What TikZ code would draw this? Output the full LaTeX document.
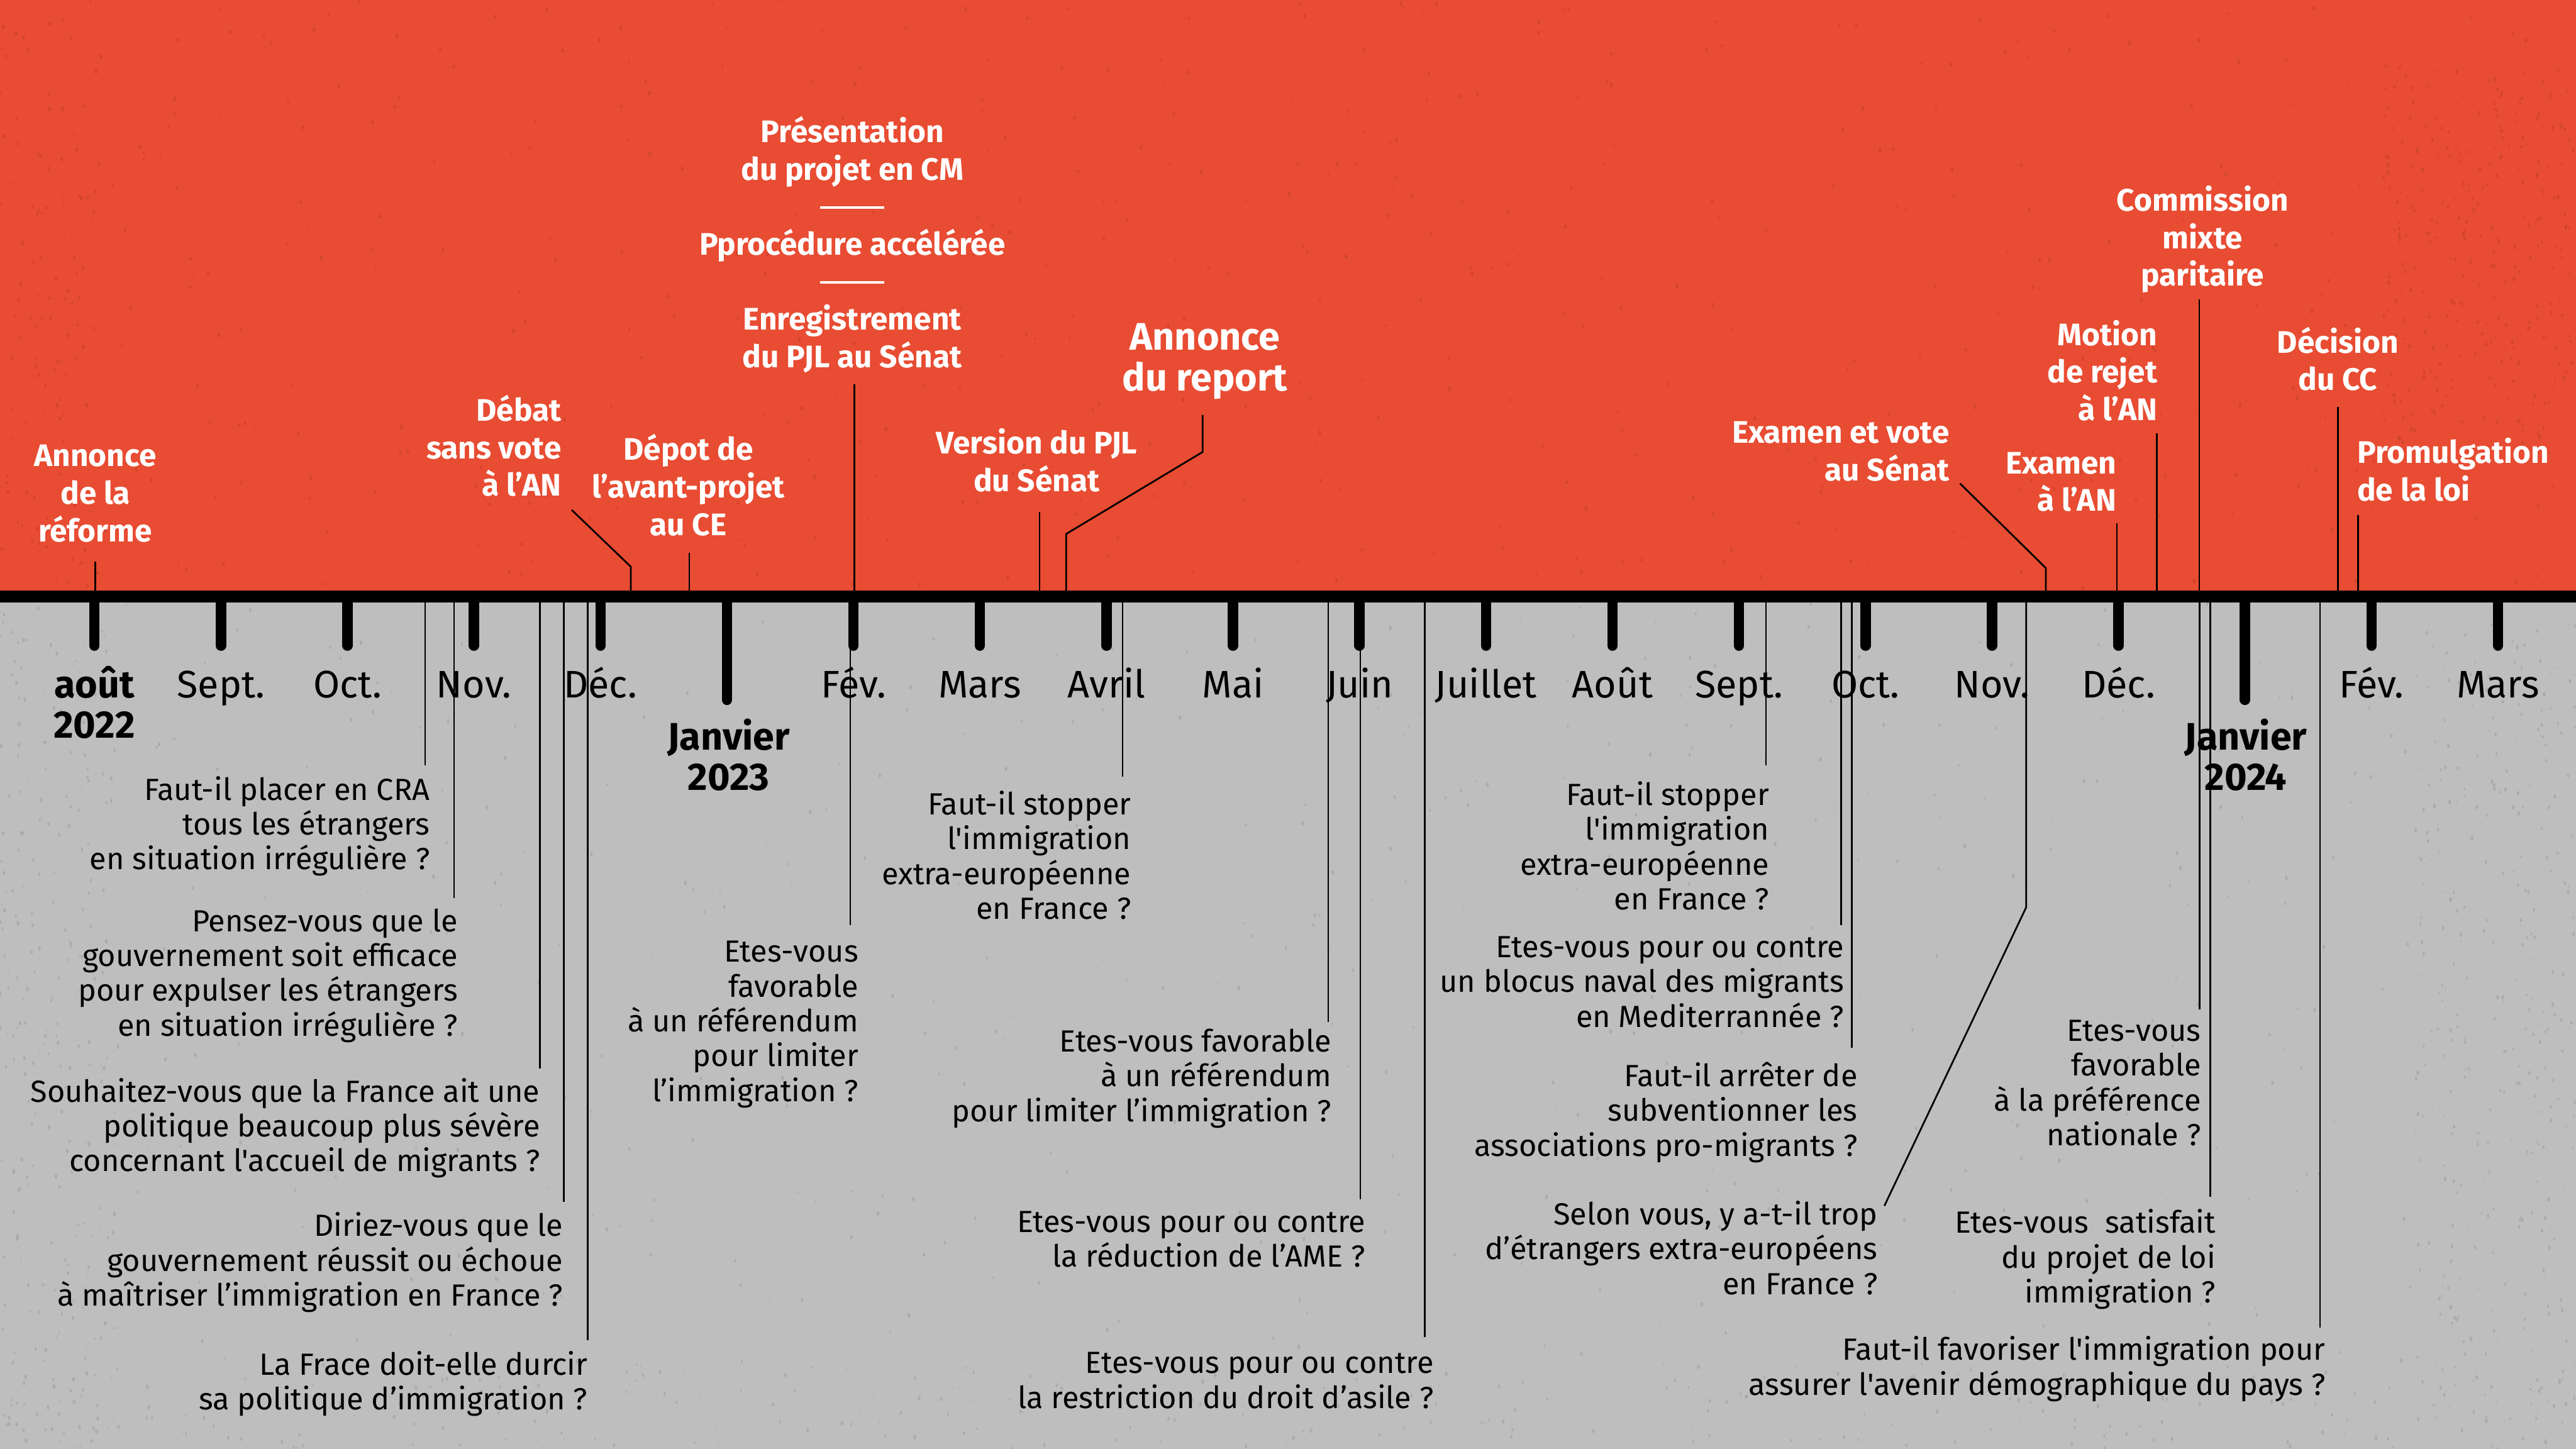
\documentclass[tikz,border=0pt]{standalone}
\usepackage{fontspec}
\newfontfamily\fira{Fira Sans}
\definecolor{rouge}{RGB}{232,76,50}
\definecolor{gris}{RGB}{190,190,190}
\newcommand\strH{\rule{0pt}{1em}}
\newcommand\strD{\rule[-0.35em]{0pt}{0.35em}}
\newcommand\filet{\rule[3pt]{0.78cm}{0.9pt}}

\begin{document}
\begin{tikzpicture}[x=0.02cm,y=-0.02cm,
  evt/.style={text=white,font=\fira\bfseries\fontsize{10.8}{13}\selectfont,align=center,anchor=north,inner sep=0pt},
  evtr/.style={evt,align=right,anchor=north east},
  qst/.style={font=\fira\fontsize{10.6}{12.06}\selectfont,align=right,anchor=north east,inner sep=0pt},
  mois/.style={font=\fira\fontsize{13.3}{14}\selectfont,align=center,anchor=north,inner sep=0pt},
  moisb/.style={mois,font=\fira\bfseries\fontsize{13.3}{14}\selectfont},
  lnk/.style={line width=0.6pt},
  mtick/.style={line width=3.6pt,line cap=round}]
\useasboundingbox (0,0) rectangle (1568,882);
% fonds
\fill[rouge] (0,0) rectangle (1568,363);
\fill[gris] (0,363) rectangle (1568,882);
\pgfmathsetseed{42}
% grain : zone/x0/largeur/y0/hauteur/nombre
\foreach \c/\xa/\w/\ya/\h/\n in {rouge/0/1568/0/360/700, gris/0/1568/366/516/700,
    rouge/1450/118/40/230/350, rouge/0/60/0/360/150,
    gris/0/70/370/512/300, gris/1470/98/380/502/400, gris/0/1568/830/52/300}{
  \foreach \k in {1,...,\n}{
    \pgfmathsetmacro\px{\xa+rnd*\w}
    \pgfmathsetmacro\py{\ya+rnd*\h}
    \pgfmathsetmacro\pr{0.4+rnd*1.1}
    \fill[\c!80!black,opacity=0.45] (\px,\py) ellipse [x radius=0.6*\pr, y radius=\pr];
  }
}
\coordinate (axL) at (0,363);
\coordinate (axR) at (1568,363);

% etapes du texte
\node[evt] (ref) at (58,264.6) {\strH Annonce\\de la\\réforme\strD};
\node[evtr] (deb) at (342,237) {\strH Débat\\sans vote\\à l’AN\strD};
\node[evt] (dep) at (419,260.8) {\strH Dépot de\\l’avant-projet\\au CE\strD};
\node[evt] (pjl) at (518.8,67.4) {\strH Présentation\\du projet en CM\\\filet\\Pprocédure accélérée\\\filet\\Enregistrement\\du PJL au Sénat\strD};
\node[evt] (ver) at (631,256.9) {\strH Version du PJL\\du Sénat\strD};
\node[evt,font=\fira\bfseries\fontsize{13.3}{14.1}\selectfont] (rep) at (733.5,189.4) {\strH Annonce\\du report\strD};
\node[evtr] (sen) at (1186.8,250.5) {\strH Examen et vote\\au Sénat\strD};
\node[evtr] (exa) at (1288.5,269) {\strH Examen\\à l’AN\strD};
\node[evtr] (mot) at (1313.5,190.9) {\strH Motion\\de rejet\\à l’AN\strD};
\node[evt] (cmp) at (1340.7,109.1) {\strH Commission\\mixte\\paritaire\strD};
\node[evt] (dcc) at (1423,195.5) {\strH Décision\\du CC\strD};
\node[evt,align=left,anchor=north west] (pro) at (1434.5,262.8) {\strH Promulgation\\de la loi\strD};

% liens vers l'axe (haut)
\foreach \e/\an/\dx/\dy in {ref/south/0/5.1,dep/south/0.6/3.6,pjl/south/1.2/3.2,ver/south/1.8/5.7,
    exa/south east/0/0.3,mot/south east/-0.8/0.8,cmp/south/-2/1.1,dcc/south/0/3.2,pro/south west/0.9/1.4}{
  \coordinate (s) at ([shift={(\dx,\dy)}]\e.\an);
  \draw[lnk] (s) -- (s |- axL);
}
\coordinate (k2) at (384,345);
\draw[lnk] ([shift={(6,1.4)}]deb.south east) -- (k2) -- (k2 |- axL);
\coordinate (k6) at (649,325);
\draw[lnk] ([shift={(-1.5,6.2)}]rep.south) -- ++(0,22.5) -- (k6) -- (k6 |- axL);
\coordinate (k7) at (1245.3,345.8);
\draw[lnk] ([shift={(6.2,-5.4)}]sen.south east) -- (k7) -- (k7 |- axL);

% questions
\node[qst] (q1) at (262,468) {\strH Faut-il placer en CRA\\tous les étrangers\\en situation irrégulière ?};
\node[qst] (q2) at (279,548) {\strH Pensez-vous que le\\gouvernement soit efficace\\pour expulser les étrangers\\en situation irrégulière ?};
\node[qst] (q3) at (329,651.8) {\strH Souhaitez-vous que la France ait une\\politique beaucoup plus sévère\\concernant l'accueil de migrants ?};
\node[qst] (q4) at (343,733.5) {\strH Diriez-vous que le\\gouvernement réussit ou échoue\\à maîtriser l’immigration en France ?};
\node[qst] (q5) at (358,818) {\strH La Frace doit-elle durcir\\sa politique d’immigration ?};
\node[qst] (q6) at (522.8,566.6) {\strH Etes-vous\\favorable\\à un référendum\\pour limiter\\l’immigration ?};
\node[qst] (q7) at (688.8,476.9) {\strH Faut-il stopper\\l'immigration\\extra-européenne\\en France ?};
\node[qst] (q8) at (810.7,621.3) {\strH Etes-vous favorable\\à un référendum\\pour limiter l’immigration ?};
\node[qst] (q9) at (831.4,731) {\strH Etes-vous pour ou contre\\la réduction de l’AME ?};
\node[qst] (q10) at (873,817) {\strH Etes-vous pour ou contre\\la restriction du droit d’asile ?};
\node[qst] (q11) at (1077.2,471.2) {\strH Faut-il stopper\\l'immigration\\extra-européenne\\en France ?};
\node[qst] (q12) at (1122.8,563.9) {\strH Etes-vous pour ou contre\\un blocus naval des migrants\\en Mediterrannée ?};
\node[qst] (q13) at (1131,642.3) {\strH Faut-il arrêter de\\subventionner les\\associations pro-migrants ?};
\node[qst] (q14) at (1143.2,726.5) {\strH Selon vous, y a-t-il trop\\d’étrangers extra-européens\\en France ?};
\node[qst] (q15) at (1340,614.7) {\strH Etes-vous\\favorable\\à la préférence\\nationale ?};
\node[qst] (q16) at (1349,731.6) {\strH Etes-vous~ satisfait\\du projet de loi\\immigration ?};
\node[qst] (q17) at (1415.8,809) {\strH Faut-il favoriser l'immigration pour\\assurer l'avenir démographique du pays ?};

% liens vers l'axe (bas)
\foreach \q/\dx/\dy in {q1/-3.2/-2,q2/-2.6/-1.3,q3/-0.4/-1.5,q4/0.3/-1.9,q5/-0.3/-2.4,q6/-5.2/-3.6,
    q7/-5.5/-4.2,q8/-2.2/0.7,q9/-3.4/-1,q10/-5.7/-3.3,q11/-2.3/-5.2,q12/-2/-0.6,q13/-3.9/-4.6,
    q15/-1/-0.3,q16/-3.6/-3.3,q17/-3.6/-1}{
  \coordinate (b) at ([shift={(\dx,\dy)}]\q.north east);
  \draw[lnk] (b |- axL) -- (b);
}
\coordinate (k14) at (1233.3,552.3);
\draw[lnk] (k14 |- axL) -- (k14) -- ([shift={(3.8,7.5)}]q14.north east);

% axe et mois
\draw[line width=4.15pt] (axL) -- (axR);
\foreach \i in {0,...,19} \draw[mtick] (57.5+77*\i,363) -- ++(0,30);
\foreach \i in {5,17} \draw[mtick] (57.5+77*\i,363) -- ++(0,63);
\foreach \i/\m in {1/Sept.,2/Oct.,3/Nov.,4/Déc.,6/Fév.,7/Mars,8/Avril,9/Mai,10/Juin,11/Juillet,
    12/Août,13/Sept.,14/Oct.,15/Nov.,16/Déc.,18/Fév.,19/Mars}
  \node[mois] (m\i) at (57.5+77*\i,401.1) {\strH\m};
\node[moisb] (m0) at (57.5,401.1) {\strH août\\2022};
\node[moisb] (m5) at (443.5,432.6) {\strH Janvier\\2023};
\node[moisb] (m17) at (1367,432.6) {\strH Janvier\\2024};
\end{tikzpicture}
\end{document}
